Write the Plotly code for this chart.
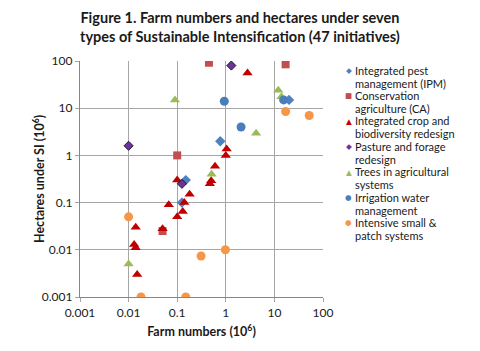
import plotly.graph_objects as go

# Data (farm numbers, hectares; both in millions)
ipm_x = [0.15, 0.77, 20, 0.125]
ipm_y = [0.30, 2.0, 15, 0.10]

ca_x = [0.10, 0.45, 17, 0.05]
ca_y = [1.0, 92, 85, 0.025]

icbr_x = [0.10, 2.8, 1.04, 1.0, 0.60, 0.50, 0.47, 0.18, 0.014, 0.013, 0.014, 0.015, 0.067, 0.05, 0.10, 0.13, 0.14]
icbr_y = [0.30, 56, 1.36, 1.0, 0.59, 0.29, 0.25, 0.15, 0.030, 0.013, 0.011, 0.003, 0.09, 0.028, 0.05, 0.065, 0.10]

pasture_x = [0.01, 0.125, 1.3]
pasture_y = [1.6, 0.25, 80]

trees_x = [0.09, 12, 14, 4.2, 0.51, 0.01]
trees_y = [15, 24, 17.5, 2.95, 0.40, 0.005]

irr_x = [0.93, 15.5, 2.06]
irr_y = [14, 15, 4.0]

intensive_x = [17, 52, 0.01, 0.018, 0.15, 0.31, 0.98]
intensive_y = [8.5, 7.0, 0.05, 0.001, 0.001, 0.0074, 0.01]

tick_vals = [0.001, 0.01, 0.1, 1, 10, 100]
tick_text = ["0.001", "0.01", "0.1", "1", "10", "100"]

series = [
    ("Integrated pest<br>management (IPM)", ipm_x, ipm_y, "diamond", "#4F81BD", 8, None, "◆"),
    ("Conservation<br>agriculture (CA)", ca_x, ca_y, "square", "#C0504D", 8, None, "■"),
    ("Integrated crop and<br>biodiversity redesign", icbr_x, icbr_y, "triangle-up", "#C00000", 9, None, "▲"),
    ("Pasture and forage<br>redesign", pasture_x, pasture_y, "diamond", "#7030A0", 7, "#1a1a1a", "◆"),
    ("Trees in agricultural<br>systems", trees_x, trees_y, "triangle-up", "#9BBB59", 9, None, "▲"),
    ("Irrigation water<br>management", irr_x, irr_y, "circle", "#4A7EBB", 9, None, "●"),
    ("Intensive small &<br>patch systems", intensive_x, intensive_y, "circle", "#F79646", 9, None, "●"),
]

FONT = "Lato, 'Open Sans', sans-serif"
TXT = "#1a1a1a"

# plot area in pixels: x 80..323, y 61..297
PX0, PX1, PY0, PY1 = 80, 323, 61, 297
def px(x):
    return (x - PX0) / (PX1 - PX0)
def py(y):
    return (PY1 - y) / (PY1 - PY0)

fig = go.Figure()
for name, xs, ys, sym, col, sz, line, glyph in series:
    fig.add_trace(go.Scatter(
        x=xs, y=ys, mode="markers", name=name.replace("<br>", " "), showlegend=False,
        marker=dict(symbol=sym, color=col, size=sz,
                    line=dict(color=line if line else col, width=1 if line else 0)),
    ))

axis_common = dict(
    type="log", tickvals=tick_vals, ticktext=tick_text,
    showgrid=True, gridcolor="#A6A6A6", gridwidth=1.3,
    showline=True, linecolor="#868686", linewidth=1.3,
    ticks="outside", ticklen=4, tickcolor="#A6A6A6",
    tickfont=dict(family=FONT, size=12, color=TXT),
    zeroline=False,
)

fig.update_xaxes(range=[-3, 2], title=dict(text="<b>Farm numbers (10<sup>6</sup>)</b>",
                 font=dict(family=FONT, size=12.5, color=TXT), standoff=8),
                 **axis_common)
fig.update_yaxes(range=[-3, 2], **axis_common)

fig.add_annotation(text="<b>Hectares under SI (10<sup>6</sup>)</b>", textangle=-90,
                   xref="paper", yref="paper", x=px(38), y=0.5,
                   xanchor="center", yanchor="middle", showarrow=False,
                   font=dict(family=FONT, size=12.5, color=TXT))

fig.add_annotation(text="<b>Figure 1. Farm numbers and hectares under seven<br>types of Sustainable Intensification (47 initiatives)</b>",
                   xref="paper", yref="paper", x=px(240), y=py(27),
                   xanchor="center", yanchor="middle", showarrow=False,
                   font=dict(family=FONT, size=14.5, color=TXT))

# Legend (drawn as text, Excel style with hanging indent)
for i, (name, xs, ys, sym, col, sz, line, glyph) in enumerate(series):
    y0 = 70 + 25.4 * i
    fig.add_annotation(text=glyph, xref="paper", yref="paper", x=px(348.5), y=py(y0 + 0.5),
                       xanchor="center", yanchor="middle", showarrow=False,
                       font=dict(family="DejaVu Sans", size=7.5, color=col))
    for j, part in enumerate(name.split("<br>")):
        fig.add_annotation(text=part, xref="paper", yref="paper", x=px(353), y=py(y0 + 13 * j),
                           xanchor="left", yanchor="middle", showarrow=False,
                           font=dict(family=FONT, size=11, color=TXT))

fig.update_layout(
    width=480, height=351,
    margin=dict(l=PX0, r=480 - PX1, t=PY0, b=351 - PY1),
    paper_bgcolor="white", plot_bgcolor="white",
    showlegend=False,
)

fig.write_html("out.html")
